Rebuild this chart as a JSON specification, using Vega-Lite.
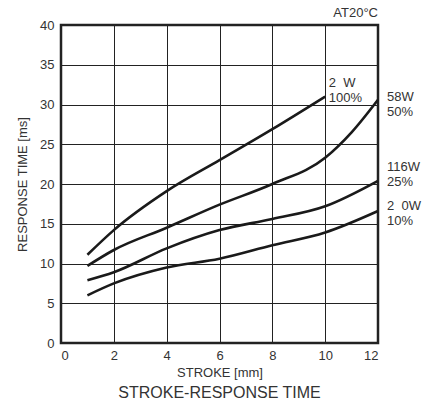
{
  "$schema": "https://vega.github.io/schema/vega-lite/v6.json",
  "width": 317,
  "height": 318,
  "autosize": {"type": "none"},
  "padding": {"left": 61, "top": 25, "right": 55, "bottom": 67},
  "background": "white",
  "title": {"text": "STROKE-RESPONSE TIME", "orient": "bottom", "offset": 6, "fontSize": 16, "font": "Liberation Sans", "fontWeight": "normal", "color": "#333"},
  "config": {
    "view": {"stroke": "#222", "strokeWidth": 2.5},
    "font": "Liberation Sans",
    "axis": {"grid": true, "gridColor": "#222", "gridWidth": 1, "gridOpacity": 1, "domain": false, "ticks": false, "labelOverlap": false, "labelFont": "Liberation Sans", "labelFontSize": 13, "labelColor": "#333", "titleFont": "Liberation Sans", "titleFontSize": 13, "titleFontWeight": "normal", "titleColor": "#333"}
  },
  "datasets": {
    "curves": [
      {"series": "200W 100%", "stroke": 1, "time": 11.1},
      {"series": "200W 100%", "stroke": 2, "time": 14.2},
      {"series": "200W 100%", "stroke": 4, "time": 19.1},
      {"series": "200W 100%", "stroke": 6, "time": 23.0},
      {"series": "200W 100%", "stroke": 8, "time": 26.9},
      {"series": "200W 100%", "stroke": 10, "time": 31.0},
      {"series": "58W 50%", "stroke": 1, "time": 9.7},
      {"series": "58W 50%", "stroke": 2, "time": 11.7},
      {"series": "58W 50%", "stroke": 4, "time": 14.5},
      {"series": "58W 50%", "stroke": 6, "time": 17.4},
      {"series": "58W 50%", "stroke": 8, "time": 20.0},
      {"series": "58W 50%", "stroke": 10, "time": 23.3},
      {"series": "58W 50%", "stroke": 11, "time": 26.5},
      {"series": "58W 50%", "stroke": 12, "time": 30.6},
      {"series": "116W 25%", "stroke": 1, "time": 7.9},
      {"series": "116W 25%", "stroke": 2, "time": 8.9},
      {"series": "116W 25%", "stroke": 4, "time": 11.9},
      {"series": "116W 25%", "stroke": 6, "time": 14.2},
      {"series": "116W 25%", "stroke": 8, "time": 15.6},
      {"series": "116W 25%", "stroke": 10, "time": 17.2},
      {"series": "116W 25%", "stroke": 12, "time": 20.4},
      {"series": "200W 10%", "stroke": 1, "time": 6.0},
      {"series": "200W 10%", "stroke": 2, "time": 7.5},
      {"series": "200W 10%", "stroke": 4, "time": 9.5},
      {"series": "200W 10%", "stroke": 6, "time": 10.6},
      {"series": "200W 10%", "stroke": 8, "time": 12.3},
      {"series": "200W 10%", "stroke": 10, "time": 13.9},
      {"series": "200W 10%", "stroke": 12, "time": 16.6}
    ],
    "labels": [
      {"text": "2\u00a0\u00a0W\n100%", "stroke": 10.14, "time": 32.2},
      {"text": "58W\n50%", "stroke": 12.34, "time": 30.4},
      {"text": "116W\n25%", "stroke": 12.34, "time": 21.6},
      {"text": "2\u00a0\u00a00W\n10%", "stroke": 12.34, "time": 16.7}
    ],
    "note": [{"text": "AT20°C", "stroke": 12, "time": 40}]
  },
  "encoding": {
    "x": {"field": "stroke", "type": "quantitative", "scale": {"domain": [0, 12], "nice": false}, "axis": {"values": [0, 2, 4, 6, 8, 10, 12], "title": "STROKE [mm]", "labelPadding": 6, "titlePadding": 4}},
    "y": {"field": "time", "type": "quantitative", "scale": {"domain": [0, 40], "nice": false}, "axis": {"values": [0, 5, 10, 15, 20, 25, 30, 35, 40], "title": "RESPONSE TIME [ms]", "labelPadding": 7, "titlePadding": 10}}
  },
  "layer": [
    {
      "data": {"name": "curves"},
      "mark": {"type": "line", "interpolate": "monotone", "color": "#1a1a1a", "strokeWidth": 2.6},
      "encoding": {
        "detail": {"field": "series"}
      }
    },
    {
      "data": {"name": "labels"},
      "mark": {"type": "text", "align": "left", "baseline": "alphabetic", "fontSize": 13, "color": "#333", "lineBreak": "\n", "lineHeight": 15, "font": "Liberation Sans"},
      "encoding": {
        "text": {"field": "text"}
      }
    },
    {
      "data": {"name": "note"},
      "mark": {"type": "text", "align": "right", "baseline": "bottom", "dy": -5, "fontSize": 13, "color": "#333", "font": "Liberation Sans"},
      "encoding": {
        "text": {"field": "text"}
      }
    }
  ]
}
